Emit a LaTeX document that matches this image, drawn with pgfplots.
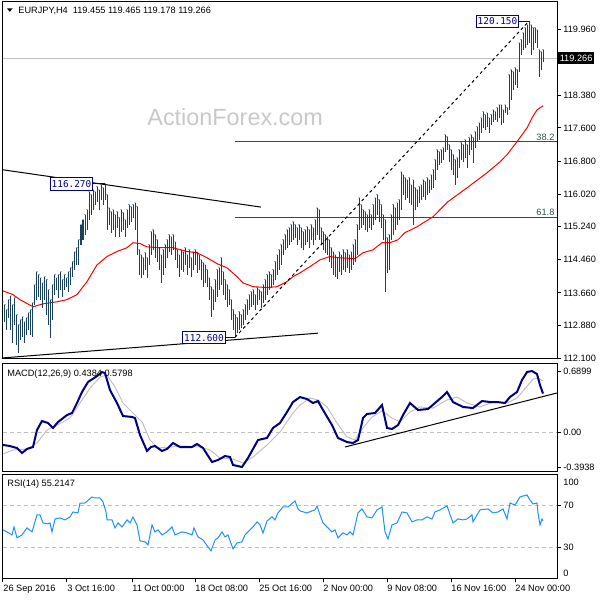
\documentclass[border=0pt]{standalone}
\usepackage{fontspec}
\setmainfont{Liberation Sans}
\newfontfamily\lblfont{DejaVu Sans Mono}
\usepackage{pgfplots}
\usepackage{pgfplotstable}
\pgfplotsset{compat=1.18}
\definecolor{barc}{RGB}{25,65,95}
\definecolor{fibc}{RGB}{47,79,79}
\definecolor{navyc}{RGB}{0,0,128}
\definecolor{sigc}{RGB}{192,192,192}
\definecolor{rsic}{RGB}{30,144,255}
\definecolor{wmc}{RGB}{200,200,200}
\definecolor{gridc}{RGB}{192,192,192}
\newcommand\sz{\fontsize{4.6}{5.5}\selectfont}

\pgfplotstableread{
x hi lo
3 113.45 112.85
5 113.38 112.97
7 113.26 112.78
9 113.50 113.07
11 113.59 112.78
13 113.38 112.47
15 113.55 112.90
17 113.14 112.42
19 112.90 112.23
21 113.02 112.54
23 113.09 112.62
25 112.97 112.47
27 113.07 112.66
29 113.19 112.78
31 113.26 112.66
33 113.43 112.62
35 113.86 113.38
37 114.17 113.50
39 114.10 113.57
41 114.02 113.50
43 113.90 113.31
45 114.05 113.50
47 113.98 113.14
49 113.74 112.90
51 113.50 112.59
53 113.86 113.02
55 114.10 113.62
57 114.02 113.74
59 114.10 113.55
61 114.17 113.74
63 113.98 113.57
65 114.10 113.74
67 114.02 113.81
69 114.17 113.69
71 114.26 113.86
73 114.41 114.05
75 114.64 114.22
77 114.74 114.33
79 114.93 114.33
81 115.29 114.81
83 115.41 114.93
85 115.53 115.05
87 115.65 115.17
89 116.08 115.41
91 116.01 115.53
93 116.12 115.65
95 116.08 115.77
97 116.20 115.84
99 116.12 115.65
101 116.24 115.89
103 116.17 115.77
105 116.27 115.89
107 116.01 115.17
109 115.69 115.29
111 115.60 115.10
113 115.65 115.17
115 115.53 115.00
117 115.60 115.22
119 115.46 115.00
121 115.65 115.12
123 115.58 115.17
125 115.41 115.00
127 115.65 115.22
129 115.77 115.29
131 115.72 115.36
133 115.77 115.46
135 115.81 115.17
137 115.72 114.57
139 114.69 114.10
141 114.57 114.02
143 114.50 114.10
145 114.62 114.22
147 114.50 114.02
149 114.81 114.33
151 115.12 114.57
153 115.17 114.69
155 115.05 114.50
157 114.93 114.41
159 114.74 114.22
161 114.57 113.90
163 114.69 114.10
165 114.81 114.26
167 114.93 114.50
169 115.05 114.64
171 115.00 114.57
173 115.05 114.69
175 114.88 114.45
177 114.69 114.26
179 114.57 114.05
181 114.69 114.22
183 114.64 114.17
185 114.74 114.33
187 114.57 114.10
189 114.69 114.26
191 114.50 114.05
193 114.64 114.22
195 114.69 114.33
197 114.64 114.14
199 114.57 114.22
201 114.45 113.98
203 114.38 113.81
205 114.33 113.90
207 114.22 113.81
209 114.02 113.50
211 113.81 113.09
213 113.74 113.26
215 113.98 113.45
217 114.22 113.57
219 114.26 113.74
221 114.50 113.86
223 114.17 113.62
225 113.98 113.50
227 113.86 113.33
229 113.74 113.38
231 113.50 113.02
233 113.26 112.78
235 113.14 112.60
237 113.07 112.71
239 113.21 112.78
241 113.14 112.83
243 113.26 112.90
245 113.38 113.02
247 113.50 113.14
249 113.62 113.26
251 113.69 113.33
253 113.74 113.38
255 113.62 113.26
257 113.79 113.38
259 113.74 113.50
261 113.69 113.31
263 113.86 113.43
265 113.98 113.50
267 114.10 113.62
269 114.17 113.74
271 114.10 113.79
273 114.22 113.86
275 114.41 113.98
277 114.57 114.10
279 114.69 114.22
281 114.81 114.33
283 114.93 114.57
285 115.05 114.69
287 115.17 114.74
289 115.22 114.81
291 115.29 114.88
293 115.36 114.93
295 115.29 114.98
297 115.22 114.81
299 115.29 114.93
301 115.22 114.74
303 115.12 114.69
305 115.17 114.81
307 115.24 114.88
309 115.17 114.74
311 115.29 114.93
313 115.22 114.81
315 115.41 114.93
317 115.69 115.05
319 115.65 114.93
321 115.22 114.81
323 115.12 114.69
325 115.05 114.62
327 115.00 114.57
329 114.93 114.41
331 114.74 114.26
333 114.64 114.10
335 114.57 114.05
337 114.50 114.00
339 114.64 114.17
341 114.57 114.10
343 114.69 114.22
345 114.62 114.17
347 114.69 114.26
349 114.57 114.14
351 114.64 114.22
353 114.81 114.33
355 114.93 114.41
357 115.29 114.57
359 115.93 115.17
361 115.77 115.22
363 115.65 115.29
365 115.60 115.17
367 115.53 115.12
369 115.65 115.22
371 115.53 115.17
373 115.77 115.29
375 115.93 115.41
377 116.01 115.53
379 115.89 115.36
381 115.77 115.22
383 115.53 114.93
385 115.41 113.69
387 114.98 114.14
389 115.05 114.22
391 115.53 114.93
393 115.77 115.05
395 115.69 115.17
397 115.81 115.29
399 115.89 115.41
401 116.55 115.65
403 116.48 116.01
405 116.41 115.89
407 116.36 115.93
409 116.41 115.81
411 116.24 115.77
413 116.36 115.29
415 116.17 115.65
417 116.12 115.72
419 116.20 115.81
421 116.24 115.89
423 116.36 115.96
425 116.32 115.89
427 116.41 116.01
429 116.36 116.05
431 116.48 116.12
433 116.60 116.17
435 116.84 116.36
437 117.08 116.60
439 117.03 116.72
441 117.08 116.77
443 117.13 116.84
445 117.44 117.03
447 117.39 117.08
449 117.20 116.79
451 117.08 116.60
453 116.96 116.48
455 116.84 116.24
457 116.89 116.41
459 117.08 116.65
461 117.25 116.84
463 117.20 116.79
465 117.32 116.89
467 117.20 116.65
469 117.37 116.96
471 117.44 117.08
473 117.37 116.77
475 117.51 117.13
477 117.63 117.27
479 117.72 117.32
481 117.84 117.49
483 117.99 117.60
485 117.92 117.56
487 117.96 117.63
489 117.84 117.49
491 117.92 117.68
493 118.03 117.75
495 117.99 117.80
497 118.08 117.75
499 118.15 117.84
501 118.15 117.68
503 118.03 117.72
505 118.15 117.96
507 118.08 117.92
509 118.87 118.03
511 118.99 118.27
513 118.94 118.51
515 119.04 118.63
517 118.99 118.56
519 119.63 118.94
521 119.71 119.35
523 119.87 119.47
525 119.99 119.51
527 120.06 119.59
529 120.15 119.63
531 120.06 119.35
533 119.99 119.47
535 119.99 119.63
537 119.94 119.51
539 119.47 118.82
541 119.42 118.99
543 119.465 119.178
}\bars

\pgfplotsset{
  panel/.style={
    scale only axis, width=277pt, xmin=3, xmax=557,
    axis line style={line width=0.5pt, black},
    xtick=\empty,
    ytick pos=right, yticklabel pos=right,
    tick align=outside, major tick length=2pt,
    every tick/.style={black, line width=0.5pt},
    yticklabel style={font=\sz, inner sep=0pt, anchor=west, xshift=1pt},
    clip=true,
  },
}

\begin{document}
\begin{tikzpicture}
\path[use as bounding box] (0pt,0pt) rectangle (300pt,-300pt);
% watermark
\node[anchor=base west, inner sep=0pt, font=\fontsize{11.7}{12}\selectfont, text=wmc] at (73.5pt,-62.5pt) {ActionForex.com};

% ---------------- main price panel
\begin{axis}[panel, at={(1.5pt,-0.5pt)}, anchor=north west, height=178.65pt,
  ymin=112.10, ymax=120.63,
  ytick={112.100,112.880,113.660,114.460,115.240,116.020,116.800,117.600,118.380,119.160,119.960},
  yticklabels={112.100,112.880,113.660,114.460,115.240,116.020,116.800,117.600,118.380,{},119.960},
]
\addplot[gridc, line width=0.5pt, forget plot] coordinates {(3,119.266) (557,119.266)};
\addplot[fibc, line width=0.5pt, forget plot] coordinates {(235,117.27) (557,117.27)};
\addplot[fibc, line width=0.5pt, forget plot] coordinates {(235,115.47) (557,115.47)};
\addplot[red, line width=0.5pt, forget plot] coordinates {
(3,113.71)(13,113.62)(20,113.50)(33,113.33)(43,113.40)(57,113.45)(67,113.50)(77,113.62)
(87,113.93)(97,114.33)(107,114.53)(117,114.65)(127,114.74)(133,114.86)(140,114.84)(147,114.76)
(160,114.74)(173,114.74)(187,114.65)(197,114.62)(207,114.50)(217,114.36)(227,114.26)(237,114.05)
(243,113.90)(253,113.81)(267,113.79)(277,113.81)(287,113.93)(293,114.05)(300,114.14)(310,114.29)
(320,114.45)(330,114.53)(340,114.50)(355,114.48)(363,114.62)(373,114.69)(382,114.86)(390,114.86)
(398,114.93)(405,115.10)(417,115.24)(433,115.48)(448,115.84)(467,116.17)(487,116.53)(500,116.79)
(507,116.96)(517,117.27)(527,117.60)(532,117.84)(537,118.03)(543,118.13)};
\addplot[barc, only marks, mark=*, mark size=0.01pt, mark options={draw=none, fill=none}, forget plot,
  error bars/.cd, y dir=minus, y explicit, error mark=none,
  error bar style={line width=0.5pt, barc}]
  table[x=x, y=hi, y error expr=\thisrow{hi}-\thisrow{lo}] {\bars};
% trend lines
\addplot[black, line width=0.5pt, forget plot] coordinates {(3,116.60) (261,115.71)};
\addplot[black, line width=0.5pt, forget plot] coordinates {(3,112.11) (318,112.70)};
\addplot[black, line width=0.5pt, dash pattern=on 1.5pt off 1.5pt, forget plot] coordinates {(235,112.60) (529,120.15)};
% connectors of labels
\addplot[navyc, line width=0.5pt, forget plot] coordinates {(519,120.15) (529,120.15)};
\addplot[navyc, line width=0.5pt, forget plot] coordinates {(93,116.27) (105,116.27)};
\addplot[navyc, line width=0.5pt, forget plot] coordinates {(226,112.60) (235,112.60)};
% label boxes
\node[draw=navyc, fill=white, text=navyc, line width=0.5pt, inner sep=0pt, minimum width=21pt, minimum height=5.8pt, font=\lblfont\fontsize{4.7}{5}\selectfont, anchor=east] at (axis cs:519,120.147) {120.150};
\node[draw=navyc, fill=white, text=navyc, line width=0.5pt, inner sep=0pt, minimum width=21pt, minimum height=6.3pt, font=\lblfont\fontsize{4.7}{5}\selectfont, anchor=east] at (axis cs:93,116.26) {116.270};
\node[draw=navyc, fill=white, text=navyc, line width=0.5pt, inner sep=0pt, minimum width=21.5pt, minimum height=6pt, font=\lblfont\fontsize{4.7}{5}\selectfont, anchor=east] at (axis cs:226,112.59) {112.600};
\node[anchor=south east, inner sep=0.6pt, font=\sz, text=fibc] at (axis cs:556,117.27) {38.2};
\node[anchor=south east, inner sep=0.6pt, font=\sz, text=fibc] at (axis cs:556,115.47) {61.8};
\end{axis}
% current price box
\node[fill=black, text=white, anchor=west, inner sep=0.7pt, font=\sz, minimum height=6pt] at (279pt,-29pt) {119.266};
% title
\fill (3.5pt,-4.2pt) -- (6.3pt,-4.2pt) -- (4.9pt,-5.9pt) -- cycle;
\node[anchor=west, inner sep=0pt, font=\sz] at (9pt,-5.25pt) {EURJPY,H4\ \ 119.455 119.465 119.178 119.266};

% ---------------- MACD panel
\begin{axis}[panel, at={(1.5pt,-181.75pt)}, anchor=north west, height=54.1pt,
  ymin=-0.445, ymax=0.777,
  ytick={-0.3938,0,0.6899}, yticklabels={-0.3938,0.00,0.6899},
]
\addplot[gridc, line width=0.5pt, dash pattern=on 2pt off 1.5pt, forget plot] coordinates {(3,0) (557,0)};
\addplot[sigc, line width=0.5pt, forget plot] coordinates {
(3,-0.245)(13,-0.200)(27,-0.188)(37,-0.121)(47,0.026)(57,0.082)(70,0.161)(80,0.331)(90,0.500)
(100,0.624)(107,0.647)(115,0.511)(123,0.331)(133,0.218)(142,0.116)(150,-0.087)(158,-0.177)
(170,-0.166)(183,-0.155)(200,-0.166)(210,-0.200)(220,-0.290)(233,-0.302)(243,-0.347)(253,-0.279)
(267,-0.143)(280,0.003)(293,0.218)(300,0.308)(310,0.387)(318,0.365)(327,0.286)(337,0.105)
(347,-0.053)(355,-0.087)(363,0.049)(372,0.173)(382,0.241)(392,0.161)(400,0.116)(410,0.229)
(420,0.286)(433,0.274)(447,0.365)(457,0.398)(467,0.331)(480,0.286)(493,0.342)(507,0.331)
(517,0.387)(527,0.520)(533,0.600)(538,0.615)(543,0.580)};
\addplot[navyc, line width=1pt, forget plot] coordinates {
(3,-0.143)(10,-0.155)(13,-0.166)(17,-0.177)(22,-0.234)(27,-0.188)(33,-0.166)(37,0.026)(42,0.128)
(48,0.105)(53,0.049)(58,0.116)(67,0.195)(72,0.218)(77,0.331)(82,0.455)(88,0.568)(97,0.635)
(102,0.680)(105,0.669)(110,0.477)(117,0.331)(123,0.184)(132,0.173)(135,0.161)(140,-0.030)
(147,-0.211)(151,-0.166)(155,-0.155)(162,-0.211)(167,-0.188)(173,-0.121)(180,-0.166)(187,-0.166)
(192,-0.166)(197,-0.132)(203,-0.177)(212,-0.335)(218,-0.313)(225,-0.268)(230,-0.279)(233,-0.369)
(242,-0.392)(248,-0.290)(258,-0.087)(267,-0.064)(273,0.049)(280,0.105)(287,0.229)(293,0.342)
(300,0.398)(307,0.376)(313,0.331)(318,0.353)(323,0.252)(332,0.082)(338,-0.064)(347,-0.110)
(353,-0.121)(358,-0.087)(363,0.161)(367,0.207)(375,0.218)(382,0.308)(387,0.049)(392,0.037)
(398,0.082)(403,0.195)(410,0.331)(418,0.252)(428,0.263)(435,0.331)(442,0.399)(447,0.455)
(453,0.342)(463,0.286)(473,0.274)(482,0.353)(490,0.342)(497,0.342)(505,0.331)(510,0.399)
(517,0.455)(522,0.590)(527,0.681)(532,0.692)(537,0.658)(540,0.534)(543,0.438)};
\addplot[black, line width=0.5pt, forget plot] coordinates {(345,-0.166) (557,0.444)};
\end{axis}
\node[anchor=west, inner sep=0pt, font=\sz] at (3.5pt,-187pt) {MACD(12,26,9) 0.4384 0.5798};

% ---------------- RSI panel
\begin{axis}[panel, at={(1.5pt,-237pt)}, anchor=north west, height=52.15pt,
  ymin=0, ymax=100,
  ytick={30,70}, yticklabels={30,70},
  xtick={3,67,132,195,259,323,387,451,515},
  xticklabels={26 Sep 2016,3 Oct 16:00,11 Oct 00:00,18 Oct 08:00,25 Oct 16:00,2 Nov 00:00,9 Nov 08:00,16 Nov 16:00,24 Nov 00:00},
  xtick pos=left,
  xticklabel style={font=\sz, inner sep=0pt, anchor=north west, yshift=-1pt},
]
\addplot[gridc, line width=0.5pt, dash pattern=on 2pt off 1.5pt, forget plot] coordinates {(3,70) (557,70)};
\addplot[gridc, line width=0.5pt, dash pattern=on 2pt off 1.5pt, forget plot] coordinates {(3,30) (557,30)};
\addplot[rsic, line width=0.5pt, forget plot] coordinates {
(3,46.4)(7,44.5)(12,41.6)(14,49.3)(17,38.8)(22,41.6)(27,48.3)(32,44.5)(37,60.8)(40,60.8)
(43,53.1)(48,52.2)(50,53.1)(52,44.5)(55,56.9)(60,57.9)(65,56.0)(70,58.9)(73,63.6)(78,62.7)
(80,72.2)(85,72.2)(92,78.0)(95,77.0)(100,77.0)(103,73.2)(106,63.6)(107,56.0)(112,56.0)(115,48.3)
(118,53.1)(122,49.3)(127,56.0)(130,53.1)(133,58.9)(137,51.2)(140,35.9)(145,34.9)(148,32.1)(152,51.2)
(155,44.5)(158,46.4)(162,41.6)(167,44.5)(172,49.3)(175,41.6)(182,44.5)(187,43.5)(192,41.6)(194,48.3)
(198,39.7)(203,36.8)(208,30.1)(211,26.3)(215,36.8)(218,38.8)(222,44.5)(225,39.7)(228,41.6)(233,28.2)
(237,34.0)(242,34.9)(245,41.6)(248,44.5)(253,49.3)(257,54.1)(260,51.2)(263,43.5)(267,55.0)(272,58.9)
(275,56.0)(278,62.7)(283,68.4)(288,68.4)(295,74.2)(298,66.5)(300,64.6)(307,62.7)(312,64.6)(315,65.6)
(317,69.4)(320,60.8)(323,53.1)(328,48.3)(332,44.5)(335,46.4)(338,38.8)(343,43.5)(347,41.6)(350,44.5)
(353,41.6)(358,62.7)(362,66.5)(367,58.9)(372,57.9)(377,65.6)(382,68.4)(385,44.5)(388,37.8)(392,51.2)
(397,53.1)(402,63.6)(407,62.7)(412,54.1)(417,56.0)(422,56.0)(427,58.9)(432,56.9)(435,63.6)(440,65.6)
(447,69.4)(453,53.1)(458,56.9)(463,56.0)(467,56.9)(472,60.8)(473,54.1)(480,65.6)(488,66.5)(493,62.7)
(498,63.6)(503,66.5)(507,56.9)(510,72.2)(515,70.3)(520,78.0)(523,78.9)(527,79.9)(530,75.1)(533,71.3)
(537,72.2)(538,62.7)(540,51.2)(542,56.9)(543,55.2)};
\end{axis}
\node[anchor=west, inner sep=0pt, font=\sz] at (3.5pt,-242pt) {RSI(14) 55.2147};
\node[anchor=west, inner sep=0pt, font=\sz] at (281.5pt,-241pt) {100};
\node[anchor=west, inner sep=0pt, font=\sz] at (281.5pt,-286.5pt) {0};
\end{tikzpicture}
\end{document}
